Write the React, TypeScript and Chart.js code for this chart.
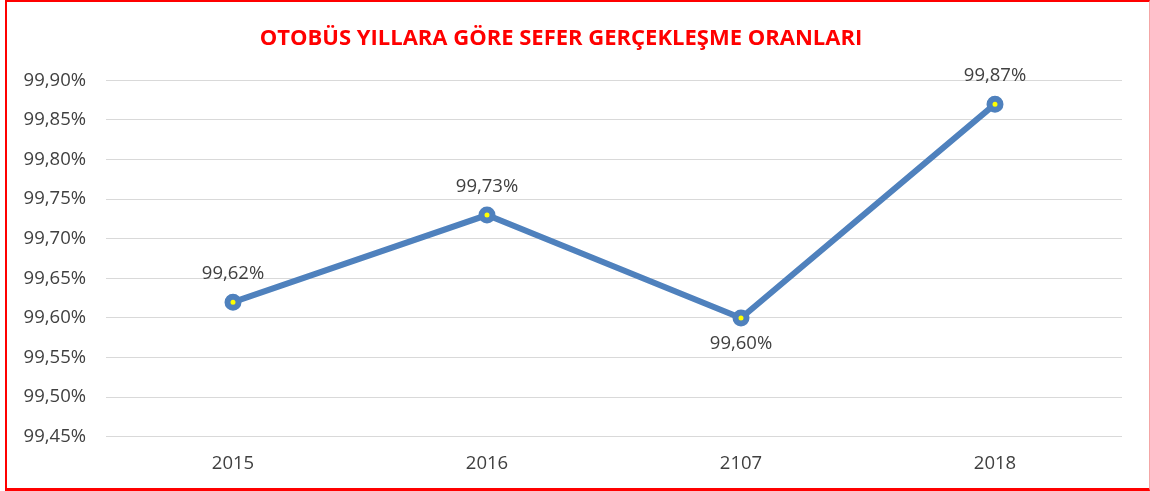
import React, { useEffect, useRef } from "react";
import { Chart, registerables } from "chart.js";

Chart.register(...registerables);

const title = "OTOBÜS YILLARA GÖRE SEFER GERÇEKLEŞME ORANLARI";
const categories = ["2015", "2016", "2107", "2018"];
const values = [99.62, 99.73, 99.6, 99.87];
const yMin = 99.45;
const yMax = 99.9;
const yStep = 0.05;
const labelBelow = [false, false, true, false];

const fmt = (v: number) => v.toFixed(2).replace(".", ",") + "%";
const FONT = "'Open Sans', 'Noto Sans', sans-serif";

const dataLabels = {
  id: "dataLabels",
  afterDatasetsDraw(chart: any) {
    const ctx = chart.ctx;
    const meta = chart.getDatasetMeta(0);
    ctx.save();
    ctx.font = `18.5px ${FONT}`;
    ctx.fillStyle = "#404040";
    ctx.textAlign = "center";
    ctx.textBaseline = "middle";
    meta.data.forEach((pt: any, i: number) => {
      const dy = labelBelow[i] ? 26 : -28;
      ctx.fillText(fmt(values[i]), pt.x, pt.y + dy);
    });
    ctx.restore();
  },
};

export default function App() {
  const ref = useRef<HTMLCanvasElement | null>(null);
  useEffect(() => {
    if (!ref.current) return;
    const chart = new Chart(ref.current, {
      type: "line",
      data: {
        labels: categories,
        datasets: [
          {
            data: values,
            borderColor: "#4F81BD",
            borderWidth: 6,
            pointRadius: 5.5,
            pointBorderWidth: 6,
            pointBorderColor: "#4F81BD",
            pointBackgroundColor: "#FFFF00",
            tension: 0,
          },
        ],
      },
      options: {
        responsive: false,
        animation: false,
        devicePixelRatio: 1,
        layout: { padding: { left: 0, right: 28, top: 0, bottom: 0 } },
        plugins: {
          legend: { display: false },
          tooltip: { enabled: false },
          title: {
            display: true,
            text: title,
            color: "#FF0000",
            font: { family: FONT, size: 22, weight: "bold" },
            padding: { top: 26, bottom: 28 },
          },
        },
        scales: {
          x: {
            offset: true,
            grid: { display: false, drawTicks: false },
            border: { display: false },
            ticks: {
              color: "#404040",
              font: { family: FONT, size: 18.5 },
              padding: 16,
            },
          },
          y: {
            min: yMin,
            max: yMax,
            grid: { color: "#D9D9D9", lineWidth: 1, drawTicks: false },
            border: { display: false },
            ticks: {
              stepSize: yStep,
              color: "#404040",
              font: { family: FONT, size: 18.5 },
              padding: 20,
              callback: (v: any) => fmt(Number(v)),
            },
            afterFit: (scale: any) => {
              scale.width = 106;
            },
          },
        },
      },
      plugins: [dataLabels],
    });
    return () => chart.destroy();
  }, []);

  return (
    <div
      style={{
        position: "absolute",
        left: 0,
        top: 0,
        width: 1150,
        height: 491,
        background: "#fff",
        overflow: "hidden",
      }}
    >
      <canvas
        ref={ref}
        width={1150}
        height={491}
        style={{ position: "absolute", left: 0, top: 0 }}
      />
      <div
        style={{
          position: "absolute",
          left: 5,
          top: 0,
          width: 1145,
          height: 491,
          boxSizing: "border-box",
          borderTop: "2px solid #FF0000",
          borderLeft: "2px solid #FF0000",
          borderBottom: "3px solid #FF0000",
          borderRight: "1px solid #F4A6A6",
          pointerEvents: "none",
        }}
      />
    </div>
  );
}
